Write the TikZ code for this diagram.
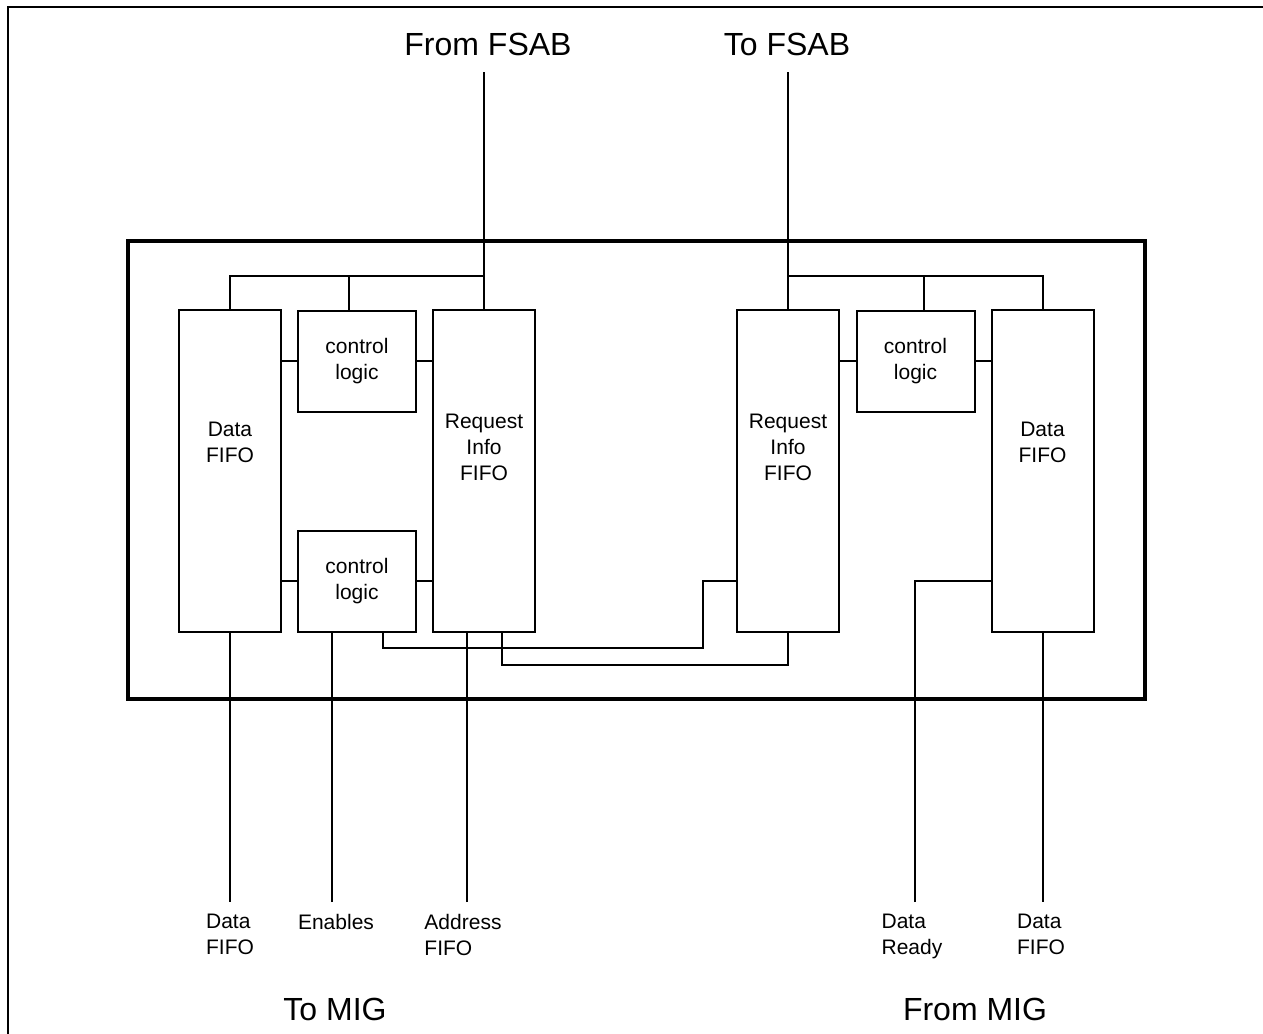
\documentclass[tikz,border=0pt]{standalone}
\usepackage{fontspec}
\setmainfont{Liberation Sans}
\usepackage{tikz}
\usetikzlibrary{positioning}

\begin{document}
\begin{tikzpicture}[x=0.5pt, y=-0.5pt, line width=1pt,
		fifo/.style={draw, line width=1pt, minimum width=51pt, minimum height=161pt, inner sep=0pt},
		ctrl/.style={draw, line width=1pt, minimum width=59pt, minimum height=50.5pt, inner sep=0pt, align=center, font=\fontsize{10.5}{13}\selectfont},
		boxtext/.style={inner sep=0pt, align=center, font=\fontsize{10.5}{13}\selectfont},
		pintext/.style={inner sep=0pt, anchor=north, align=left, font=\fontsize{10.5}{13}\selectfont},
		bigtext/.style={inner sep=0pt, anchor=base, font=\fontsize{16}{19}\selectfont}]
		\useasboundingbox (0,0) rectangle (1263,1033);
		
		% Frame and module outline
		\draw[line width=0.75pt] (8,1040) -- (8,7) -- (1270,7);
		\draw[line width=2pt] (128,241) rectangle (1145,699);
		
		% Nodes
		\node[fifo] (dL) at (230,471) {};
		\node[fifo] (rL) at (484,471) {};
		\node[fifo] (rR) at (788,471) {};
		\node[fifo] (dR) at (1042.5,471) {};
		\node[ctrl] (cuL) at (357,361) {control\\logic};
		\node[ctrl] (clL) at (357,581) {control\\logic};
		\node[ctrl] (cR) at (915.5,361) {control\\logic};
		\node[boxtext] (dLt) at (230,442.5) {Data\\FIFO};
		\node[boxtext] (rLt) at (484,447) {Request\\Info\\FIFO};
		\node[boxtext] (rRt) at (788,447) {Request\\Info\\FIFO};
		\node[boxtext] (dRt) at (1042.5,442.5) {Data\\FIFO};
		
		% Labels
		\node[bigtext] (fsabin) at (488,55) {From FSAB};
		\node[bigtext] (fsabout) at (787,55) {To FSAB};
		\node[bigtext] (migout) at (335,1020) {To MIG};
		\node[bigtext] (migin) at (975,1020) {From MIG};
		\node[pintext] (dLl) at (230,913) {Data\\FIFO};
		\node[pintext] (enl) at (336,913) {Enables};
		\node[pintext] (adl) at (463,913) {Address\\FIFO};
		\node[pintext] (drl) at (912,913) {Data\\Ready};
		\node[pintext] (dRl) at (1041,913) {Data\\FIFO};
		
		% Pin ends and bends
		\coordinate (fromfsab) at (484,72);
		\coordinate (tofsab) at (788,72);
		\coordinate (busL) at (484,276);
		\coordinate (busR) at (788,276);
		\coordinate (jog) at (703,648);
		\coordinate (reqlink) at (788,665);
		\coordinate (dLo) at (230,902);
		\coordinate (enO) at (332,902);
		\coordinate (adO) at (467,902);
		\coordinate (drO) at (915,902);
		\coordinate (dRo) at (1042.5,902);
		
		% Edges
		\draw (fromfsab) -- (rL.north);
		\draw (dL.north) |- (busL);
		\draw ([xshift=-4pt]cuL.north) -- ([xshift=-4pt]cuL.north |- busL);
		\draw (cuL.west) -- (cuL.west -| dL.east);
		\draw (cuL.east) -- (cuL.east -| rL.west);
		\draw (clL.west) -- (clL.west -| dL.east);
		\draw (clL.east) -- (clL.east -| rL.west);
		\draw ([xshift=13pt]clL.south) |- (jog) |- (rR.west |- clL.east);
		\draw ([xshift=9pt]rL.south) |- (reqlink) -- (rR.south);
		\draw (tofsab) -- (rR.north);
		\draw (dR.north) |- (busR);
		\draw ([xshift=4.25pt]cR.north) -- ([xshift=4.25pt]cR.north |- busR);
		\draw (cR.west) -- (cR.west -| rR.east);
		\draw (cR.east) -- (cR.east -| dR.west);
		\draw (dL.south) -- (dLo);
		\draw (enO) -- (enO |- clL.south);
		\draw (adO) -- (adO |- rL.south);
		\draw (drO) |- (dR.west |- clL.east);
		\draw (dR.south) -- (dRo);
	\end{tikzpicture}
\end{document}
